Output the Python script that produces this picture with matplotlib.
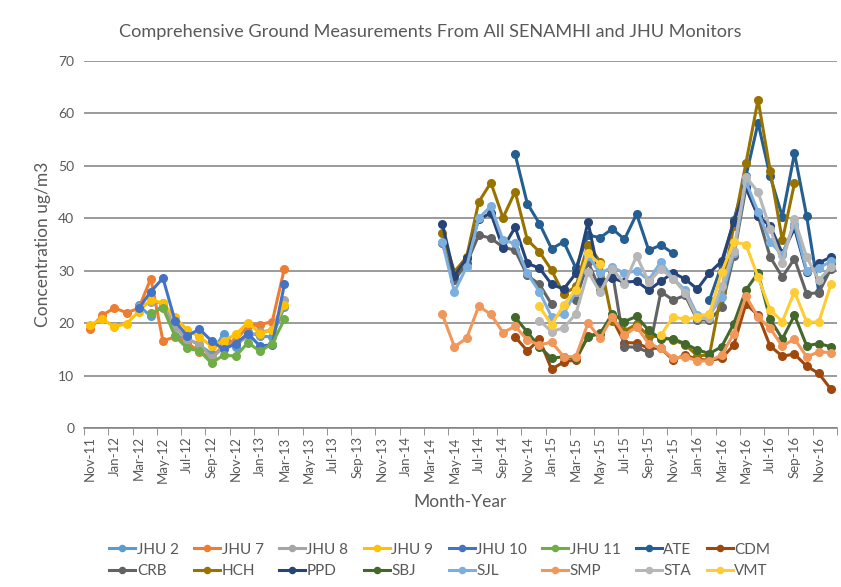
import numpy as np
import pandas as pd
import matplotlib
matplotlib.use('Agg')
import matplotlib.pyplot as plt

plt.rcParams['font.family'] = ['Lato', 'DejaVu Sans']

NA = np.nan

# month categories Nov-11 .. Dec-16
months = pd.date_range('2011-11-01', periods=62, freq='MS').strftime('%b-%y').tolist()

# first campaign (Nov-11 .. Mar-13), 17 months
jhu2 = [NA, NA, NA, NA, 23.4, 21.3, 23.5, 17.6, 17.1, 15.8, 14.2, 18.0, 15.4, 18.3, 17.5, 17.4, 23.1]
jhu7 = [18.9, 21.5, 22.9, 22.0, 22.8, 28.5, 16.6, 17.4, 16.3, 14.5, 13.4, 15.8, 16.8, 19.4, 19.7, 20.3, 30.4]
jhu8 = [NA, NA, NA, NA, 23.0, 24.0, 23.9, 19.3, 16.8, 16.1, 13.3, 15.4, 16.1, 17.4, 18.3, 18.7, 24.5]
jhu9 = [19.6, 20.8, 19.3, 19.9, 22.2, 24.5, 23.8, 21.1, 18.7, 17.4, 15.6, 16.6, 17.9, 20.1, 18.0, 18.7, 23.5]
jhu10 = [NA, NA, NA, NA, 22.8, 26.0, 28.6, 20.4, 17.5, 18.9, 16.6, 15.0, 16.1, 18.0, 15.6, 15.9, 27.4]
jhu11 = [NA, NA, NA, NA, NA, 21.9, 22.9, 17.5, 15.2, 14.7, 12.4, 13.9, 13.7, 16.3, 14.6, 16.1, 20.7]

# second campaign (Apr-14 .. Dec-16), 33 months
ate = [NA, NA, NA, NA, NA, NA, 52.2, 42.8, 39.0,
       34.2, 35.5, 30.5, 36.8, 36.3, 38.0, 36.0, 40.8, 33.9, 34.9, 33.3, NA,
       NA, 24.4, 31.0, 39.6, 48.0, 58.2, 48.0, 40.3, 52.4, 40.4, 26.0, 31.5]
cdm = [NA, NA, NA, NA, NA, NA, 17.4, 14.7, 16.9,
       11.2, 12.6, 13.0, 17.5, 18.2, 20.8, 16.3, 16.2, 15.2, 15.2, 13.0, 13.9,
       13.1, 12.9, 13.3, 15.8, 23.7, 21.5, 15.6, 13.7, 14.1, 11.8, 10.4, 7.4]
crb = [35.2, 28.2, 31.4, 36.8, 36.2, 34.5, 33.9, 29.1, 27.4,
       23.6, NA, 24.5, 31.7, 26.3, 29.8, 15.5, 15.4, 14.4, 26.0, 24.4, 25.3,
       20.6, 20.6, 23.0, 32.8, 45.8, 40.5, 32.6, 28.8, 32.3, 25.6, 25.8, 30.4]
hch = [37.2, 29.8, 32.6, 43.1, 46.8, 40.1, 45.1, 35.9, 33.6,
       30.1, 25.5, 27.0, 35.0, 31.7, 20.5, 18.5, 19.8, 17.5, 17.4, 16.8, 15.9,
       13.8, 13.9, 26.0, 38.5, 50.5, 62.6, 49.1, 35.8, 46.7, NA, NA, NA]
ppd = [39.0, 29.0, 32.4, 39.8, 41.0, 34.3, 38.3, 31.4, 30.5,
       27.4, 26.5, 29.5, 39.3, 28.0, 28.6, 27.8, 28.0, 26.3, 28.0, 29.6, 28.4,
       26.5, 29.6, 31.8, 39.3, 46.0, 40.4, 38.5, 33.3, 38.1, 29.8, 31.5, 32.6]
sbj = [NA, NA, NA, NA, NA, NA, 21.1, 18.3, 15.5,
       13.3, 13.6, 13.3, 17.4, 18.0, 21.8, 20.3, 21.3, 18.6, 17.0, 17.0, 16.1,
       14.9, 14.2, 15.5, 19.9, 26.3, 29.6, 20.7, 17.0, 21.5, 15.7, 16.1, 15.5]
sjl = [35.5, 26.0, 30.7, 40.0, 42.3, 35.8, 35.2, 29.5, 26.0,
       21.2, 21.8, 26.0, 32.9, 29.5, 30.7, 29.5, 30.0, 28.2, 31.7, 28.5, 26.3,
       21.5, 21.5, 25.0, 33.3, 47.0, 41.2, 35.5, 33.0, 39.0, 30.0, 30.5, 31.8]
smp = [21.7, 15.5, 17.1, 23.2, 21.7, 18.2, 19.4, 16.8, 15.8,
       16.4, 13.6, 13.6, 20.0, 17.1, 21.2, 17.7, 19.3, 16.1, 15.2, 13.3, 13.6,
       12.8, 12.8, 13.9, 18.0, 25.1, 21.2, 19.0, 15.6, 17.0, 13.6, 14.5, 14.4]
sta = [NA, NA, NA, NA, NA, NA, NA, NA, 20.5,
       18.4, 19.1, 21.8, 29.8, 25.9, 30.4, 27.5, 32.8, 27.9, 30.3, 28.5, 25.8,
       20.9, 20.9, 27.0, 33.8, 47.9, 45.0, 38.0, 31.5, 39.9, 32.6, 28.2, 30.7]
vmt = [NA, NA, NA, NA, NA, NA, NA, NA, 23.2,
       19.7, 23.5, 26.4, 33.4, 31.2, NA, NA, NA, NA, 17.7, 21.2, 20.7,
       21.2, 21.8, 29.7, 35.5, 35.0, 28.8, 22.5, 20.3, 26.0, 20.2, 20.2, 27.4]

names = ['JHU 2', 'JHU 7', 'JHU 8', 'JHU 9', 'JHU 10', 'JHU 11', 'ATE', 'CDM',
         'CRB', 'HCH', 'PPD', 'SBJ', 'SJL', 'SMP', 'STA', 'VMT']
colors = ['#5B9BD5', '#ED7D31', '#A5A5A5', '#FFC000', '#4472C4', '#70AD47', '#255E91', '#9E480E',
          '#636363', '#997300', '#264478', '#43682B', '#7CAFDD', '#F1975A', '#B7B7B7', '#FFCD33']

first = [jhu2, jhu7, jhu8, jhu9, jhu10, jhu11]
second = [ate, cdm, crb, hch, ppd, sbj, sjl, smp, sta, vmt]
n = len(months)
series = [s + [NA] * (n - len(s)) for s in first] + [[NA] * (n - len(s)) + s for s in second]

fig = plt.figure(figsize=(8.41, 5.87), dpi=100)
ax = fig.add_axes([84 / 841, 1 - 428 / 587, 753 / 841, 367 / 587])

x = np.arange(n)
handles = []
for name, col, vals in zip(names, colors, series):
    h, = ax.plot(x, vals, color=col, lw=2.2, marker='o', ms=5.5, label=name)
    handles.append(h)

ax.set_xlim(-0.5, n - 0.5)
ax.set_ylim(0, 70)
ax.set_yticks(range(0, 71, 10))
ax.grid(axis='y', color='#808080', lw=1.1)
ax.set_axisbelow(True)
for s in ['left', 'right', 'top']:
    ax.spines[s].set_visible(False)
ax.spines['bottom'].set_color('#808080')
ax.spines['bottom'].set_linewidth(1.1)

ax.set_xticks(x[::2])
ax.set_xticklabels(months[::2], rotation=90, fontsize=9.5, color='#595959')
ax.set_xticks(np.arange(-0.5, n, 2), minor=True)
ax.tick_params(axis='x', which='major', length=0, pad=6)
ax.tick_params(axis='x', which='minor', length=5, color='#808080')
ax.tick_params(axis='y', length=0, labelsize=10, labelcolor='#595959', pad=7)

ax.set_xlabel('Month-Year', fontsize=12.5, color='#595959', labelpad=8)
ax.set_ylabel('Concentration ug/m3', fontsize=12.5, color='#595959', labelpad=5)
fig.text(0.512, 1 - 32 / 587, 'Comprehensive Ground Measurements From All SENAMHI and JHU Monitors',
         ha='center', va='center', fontsize=13.1, color='#595959')

# legend in two rows of eight, filled row by row
order = [i for c in range(8) for i in (c, c + 8)]
fig.legend([handles[i] for i in order], [names[i] for i in order], ncol=8, loc='center',
           bbox_to_anchor=(0.523, 0.045), frameon=False, fontsize=11, handlelength=1.7,
           handletextpad=0.1, columnspacing=1.0, labelspacing=0.5, markerscale=0.8,
           labelcolor='#595959')

fig.savefig('out.png', dpi=100)
